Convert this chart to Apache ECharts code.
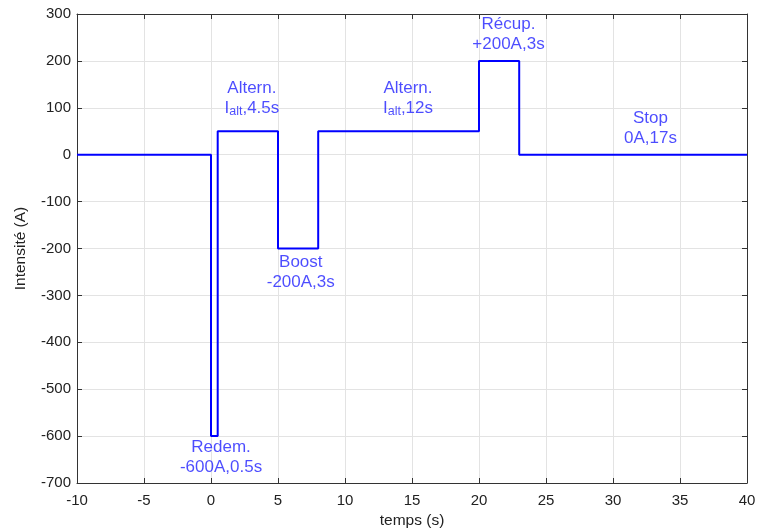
<!DOCTYPE html>
<html><head><meta charset="utf-8">
<script src="https://cdn.jsdelivr.net/npm/echarts@6/dist/echarts.min.js"></script>
<style>html,body{margin:0;padding:0;background:#fff}#c{width:758px;height:531px}</style>
</head><body><div id="c"></div>
<script>
// step profile: time (s) and current (A)
const timeValues = [-10, 0, 0, 0.5, 0.5, 5, 5, 8, 8, 20, 20, 23, 23, 40];
const currentValues = [0, 0, -600, -600, 50, 50, -200, -200, 50, 50, 200, 200, 0, 0];
const xTicks = [-10, -5, 0, 5, 10, 15, 20, 25, 30, 35, 40];
const yTicks = [-700, -600, -500, -400, -300, -200, -100, 0, 100, 200, 300];
// annotations: [x, y, line1, line2 (rich)]
const annotations = [
  [3.05, 120, 'Altern.', '{a|I}{s|alt}{a|,4.5s}'],
  [6.7, -250, 'Boost', '{a|-200A,3s}'],
  [0.75, -646, 'Redem.', '{a|-600A,0.5s}'],
  [14.7, 120, 'Altern.', '{a|I}{s|alt}{a|,12s}'],
  [22.2, 256, 'Récup.', '{a|+200A,3s}'],
  [32.8, 56, 'Stop', '{a|0A,17s}']
];
const FONT = 'Liberation Sans, Arial, sans-serif';
const txtBlue = '#1f1fff';
const axisCol = '#333';
const chart = echarts.init(document.getElementById('c'), null, {renderer: 'canvas'});
const axisCommon = {
  axisLine: {show: true, onZero: false, lineStyle: {color: axisCol, width: 1}},
  axisTick: {show: true, inside: true, length: 5, lineStyle: {color: axisCol}},
};
chart.setOption({
  animation: false,
  textStyle: {fontFamily: FONT},
  grid: {left: 77, right: 11, top: 14, bottom: 48, containLabel: false, outerBoundsMode: 'none'},
  xAxis: [
    Object.assign({}, axisCommon, {type: 'value', min: -10, max: 40, interval: 5, position: 'bottom',
      name: 'temps (s)', nameLocation: 'middle', nameGap: 29,
      nameTextStyle: {fontFamily: FONT, fontSize: 15.5, color: '#222'},
      axisLabel: {fontFamily: FONT, fontSize: 15, color: '#222', margin: 10,
        formatter: v => xTicks.includes(v) ? String(v) : ''},
      splitLine: {show: true, lineStyle: {color: '#e3e3e3', width: 1}}}),
    Object.assign({}, axisCommon, {type: 'value', min: -10, max: 40, interval: 5, position: 'top',
      axisLabel: {show: false}, splitLine: {show: false}})
  ],
  yAxis: [
    Object.assign({}, axisCommon, {type: 'value', min: -700, max: 300, interval: 100, position: 'left',
      name: 'Intensité (A)', nameLocation: 'middle', nameGap: 48, nameRotate: 90,
      nameTextStyle: {fontFamily: FONT, fontSize: 15.5, color: '#222'},
      axisLabel: {fontFamily: FONT, fontSize: 15, color: '#222', margin: 6,
        formatter: v => yTicks.includes(v) ? String(v) : ''},
      splitLine: {show: true, lineStyle: {color: '#e3e3e3', width: 1}}}),
    Object.assign({}, axisCommon, {type: 'value', min: -700, max: 300, interval: 100, position: 'right',
      axisLabel: {show: false}, splitLine: {show: false}})
  ],
  series: [
    {
      type: 'line',
      data: timeValues.map((t, i) => [t, currentValues[i]]),
      showSymbol: false,
      lineStyle: {color: '#0000ff', width: 2},
      itemStyle: {color: '#0000ff'},
      z: 3
    },
    {
      type: 'scatter',
      symbolSize: 0,
      data: annotations.map(a => ({value: [a[0], a[1]], l1: a[2], l2: a[3]})),
      label: {
        show: true, position: 'inside', align: 'center', verticalAlign: 'middle',
        formatter: p => '{a|' + p.data.l1 + '}\n' + p.data.l2,
        rich: {
          a: {fontFamily: FONT, fontSize: 17, color: txtBlue, lineHeight: 20},
          s: {fontFamily: FONT, fontSize: 12.5, color: txtBlue, lineHeight: 20, verticalAlign: 'bottom', padding: [6, 0, 0, 0]}
        }
      },
      z: 4
    }
  ]
});
</script></body></html>
